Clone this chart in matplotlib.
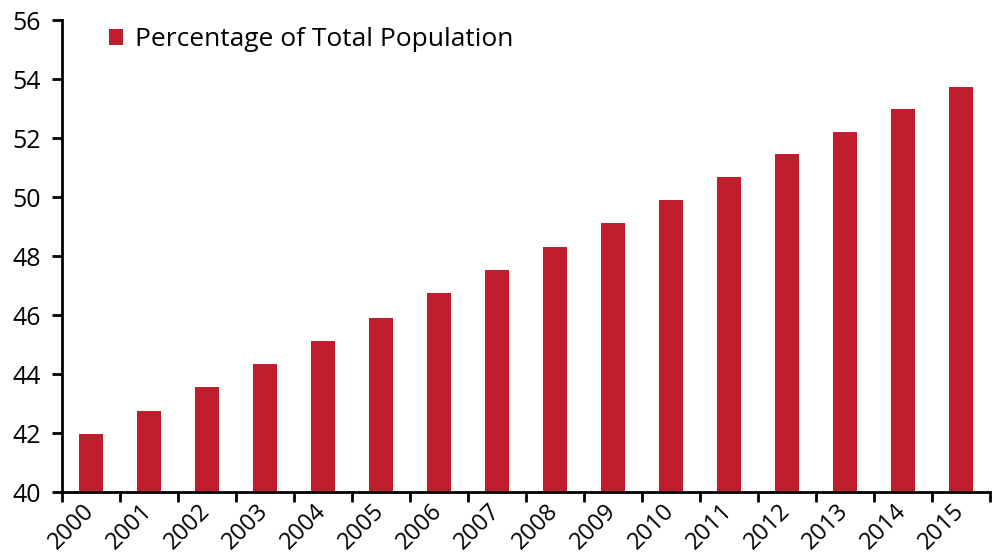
import matplotlib.pyplot as plt
import matplotlib.transforms as mtransforms
import numpy as np

plt.rcParams['font.family'] = ['Open Sans', 'DejaVu Sans']

# Share of total population by year
years = ['2000', '2001', '2002', '2003', '2004', '2005', '2006', '2007',
         '2008', '2009', '2010', '2011', '2012', '2013', '2014', '2015']
pct = [41.97, 42.75, 43.56, 44.34, 45.12, 45.90, 46.75, 47.52,
       48.30, 49.12, 49.90, 50.68, 51.46, 52.22, 52.99, 53.73]

red = '#BE1E2D'

fig = plt.figure(figsize=(10, 5.56), dpi=100)
ax = fig.add_axes([0.062, 0.115, 0.928, 0.849])

x = np.arange(len(years))
ax.bar(x, pct, width=0.4, color=red, label='Percentage of Total Population')

ax.set_ylim(40, 56)
ax.set_yticks(np.arange(40, 57, 2))
ax.set_xlim(-0.5, len(years) - 0.5)

# boundary ticks between bars, labels centred under each bar
ax.set_xticks(np.arange(len(years) + 1) - 0.5)
ax.set_xticklabels([])
ax.set_xticks(x, minor=True)
ax.set_xticklabels(years, minor=True, rotation=45, ha='right', va='center',
                   rotation_mode='anchor', fontsize=17)
shift = mtransforms.ScaledTranslation(14 / 100, 0, fig.dpi_scale_trans)
for lab in ax.get_xticklabels(minor=True):
    lab.set_transform(lab.get_transform() + shift)
ax.tick_params(axis='x', which='minor', length=0, pad=11)
ax.tick_params(axis='x', which='major', length=7, width=2, direction='out')
ax.tick_params(axis='y', length=7, width=2, direction='out', labelsize=18, pad=8)

for side in ['top', 'right']:
    ax.spines[side].set_visible(False)
for side in ['left', 'bottom']:
    ax.spines[side].set_linewidth(2)

ax.legend(loc='upper left', bbox_to_anchor=(0.025, 1.035), frameon=False,
          fontsize=19, handlelength=0.55, handleheight=0.55, handletextpad=0.45)

fig.savefig('out.png', dpi=100)
